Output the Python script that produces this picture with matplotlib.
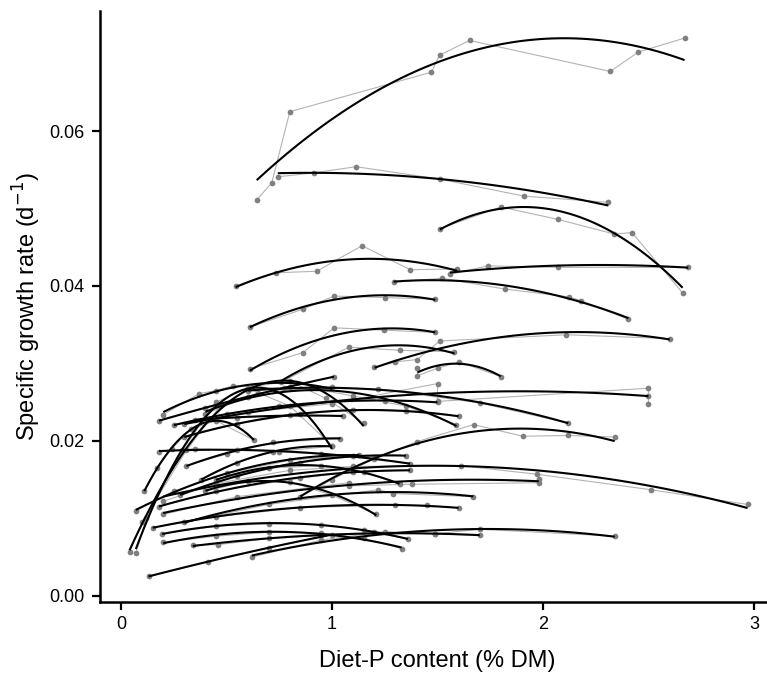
import matplotlib
matplotlib.use("Agg")
import matplotlib.pyplot as plt
import numpy as np

plt.rcParams['font.family'] = ['Liberation Sans', 'DejaVu Sans']

# each study: (diet P % DM, specific growth rate d-1)
study_a = ([0.643, 0.714, 0.800, 1.471, 1.510, 1.652, 2.319, 2.452, 2.671],
           [0.0511, 0.0533, 0.0625, 0.0676, 0.0698, 0.0717, 0.0677, 0.0702, 0.0720])
study_b = ([0.743, 0.914, 1.114, 1.510, 1.910, 2.310],
           [0.0541, 0.0546, 0.0554, 0.0538, 0.0516, 0.0508])
study_c = ([1.511, 1.800, 2.070, 2.339, 2.422, 2.662],
           [0.0474, 0.0502, 0.0486, 0.0467, 0.0469, 0.0391])
study_d = ([0.543, 0.732, 0.927, 1.142, 1.371, 1.594],
           [0.0400, 0.0417, 0.0419, 0.0452, 0.0421, 0.0422])
study_e = ([1.559, 1.740, 2.073, 2.689],
           [0.0415, 0.0426, 0.0424, 0.0424])
study_f = ([1.292, 1.521, 1.820, 2.122, 2.181, 2.405],
           [0.0405, 0.0410, 0.0396, 0.0386, 0.0381, 0.0357])
study_g = ([0.610, 0.862, 1.010, 1.252, 1.490],
           [0.0347, 0.0370, 0.0387, 0.0385, 0.0383])
study_h = ([0.610, 0.862, 1.010, 1.248, 1.490],
           [0.0293, 0.0314, 0.0346, 0.0343, 0.0340])
study_i = ([0.760, 1.080, 1.320, 1.580],
           [0.0276, 0.0321, 0.0317, 0.0315])
study_j = ([1.201, 1.300, 1.403, 1.511, 2.111, 2.601],
           [0.0295, 0.0302, 0.0305, 0.0329, 0.0337, 0.0332])
study_k = ([1.405, 1.405, 1.502, 1.602, 1.800],
           [0.0294, 0.0284, 0.0294, 0.0302, 0.0283])
study_l = ([0.30, 0.60, 1.00, 1.50, 1.50, 2.50, 2.50, 2.50],
           [0.0222, 0.0237, 0.0248, 0.0274, 0.0251, 0.0268, 0.0258, 0.0247])
study_m = ([0.60, 0.90, 1.22, 1.70, 2.12],
           [0.0265, 0.0268, 0.0267, 0.0249, 0.0223])
study_n = ([0.85, 1.00, 1.20, 1.403, 1.671, 1.905, 2.12, 2.34],
           [0.0128, 0.0150, 0.0177, 0.0199, 0.0221, 0.0206, 0.0207, 0.0205])
study_o = ([0.20, 0.45, 0.80, 1.10, 1.61, 1.97, 2.51, 2.97],
           [0.0122, 0.0145, 0.0162, 0.0167, 0.0168, 0.0157, 0.0137, 0.0118])
study_p = ([0.20, 0.55, 1.08, 1.08, 1.38, 1.98, 1.98],
           [0.0105, 0.0128, 0.0146, 0.0142, 0.0144, 0.0146, 0.0151])
study_q = ([0.30, 0.70, 1.22, 1.29, 1.67],
           [0.0095, 0.0118, 0.0137, 0.0132, 0.0128])
study_r = ([0.15, 0.45, 0.85, 1.30, 1.45, 1.60],
           [0.0088, 0.0102, 0.0114, 0.0117, 0.0117, 0.0113])
study_s = ([0.62, 0.95, 1.25, 1.49, 1.70, 2.34],
           [0.0050, 0.0072, 0.0083, 0.0080, 0.0086, 0.0077])
study_t = ([0.20, 0.45, 0.70, 0.95, 1.15, 1.33],
           [0.0069, 0.0077, 0.0082, 0.0081, 0.0074, 0.0061])
study_u = ([0.04, 0.10, 0.31, 0.47, 0.62, 0.80, 0.97, 1.15],
           [0.0057, 0.0095, 0.0188, 0.0245, 0.0270, 0.0277, 0.0255, 0.0223])
study_v = ([0.07, 0.12, 0.29, 0.45, 0.60, 0.80, 1.00],
           [0.0055, 0.0100, 0.0188, 0.0250, 0.0268, 0.0245, 0.0194])
study_w = ([0.11, 0.17, 0.24, 0.33, 0.45, 0.63],
           [0.0135, 0.0165, 0.0190, 0.0215, 0.0226, 0.0201])
study_x = ([0.40, 0.65, 0.90, 1.10, 1.35, 1.59],
           [0.0235, 0.0262, 0.0268, 0.0258, 0.0245, 0.0221])
study_y = ([0.18, 0.40, 0.60, 0.80, 1.01],
           [0.0226, 0.0243, 0.0257, 0.0270, 0.0283])
study_z = ([0.20, 0.37, 0.45, 0.53, 0.77, 1.00],
           [0.0234, 0.0261, 0.0265, 0.0271, 0.0268, 0.0270])
study_aa = ([0.25, 0.50, 0.75, 1.00, 1.25, 1.50],
            [0.0220, 0.0235, 0.0245, 0.0250, 0.0252, 0.0250])
study_ab = ([0.30, 0.55, 0.85, 1.10, 1.35, 1.60],
            [0.0205, 0.0222, 0.0235, 0.0240, 0.0238, 0.0232])
study_ac = ([0.35, 0.55, 0.80, 1.05],
            [0.0227, 0.0230, 0.0233, 0.0232])
study_ad = ([0.18, 0.35, 0.55, 0.75, 0.95, 1.20, 1.37],
            [0.0186, 0.0190, 0.0188, 0.0186, 0.0183, 0.0178, 0.0170])
study_ae = ([0.31, 0.50, 0.72, 1.04],
            [0.0168, 0.0183, 0.0198, 0.0203])
study_af = ([0.38, 0.55, 0.72, 1.00],
            [0.0150, 0.0172, 0.0186, 0.0193])
study_ag = ([0.28, 0.55, 0.85, 1.10, 1.35],
            [0.0130, 0.0155, 0.0172, 0.0180, 0.0181])
study_ah = ([0.18, 0.45, 0.85, 1.10, 1.37],
            [0.0115, 0.0135, 0.0152, 0.0160, 0.0162])
study_ai = ([0.07, 0.25, 0.50, 0.80, 1.13],
            [0.0110, 0.0135, 0.0158, 0.0175, 0.0182])
study_aj = ([0.40, 0.60, 0.80, 1.00, 1.21],
            [0.0135, 0.0148, 0.0147, 0.0130, 0.0105])
study_ak = ([0.45, 0.70, 0.95, 1.15, 1.32],
            [0.0150, 0.0165, 0.0168, 0.0160, 0.0144])
study_al = ([0.195, 0.45, 0.70, 0.95, 1.15, 1.36],
            [0.0080, 0.0090, 0.0093, 0.0092, 0.0085, 0.0073])
study_am = ([0.34, 0.46, 0.70, 0.95, 1.20, 1.49, 1.70],
            [0.0066, 0.0066, 0.0074, 0.0078, 0.0082, 0.0080, 0.0078])
study_an = ([0.13, 0.41, 0.70, 1.00],
            [0.0025, 0.0044, 0.0062, 0.0079])

studies = [study_a, study_b, study_c, study_d, study_e, study_f, study_g, study_h,
           study_i, study_j, study_k, study_l, study_m, study_n, study_o, study_p,
           study_q, study_r, study_s, study_t, study_u, study_v, study_w, study_x,
           study_y, study_z, study_aa, study_ab, study_ac, study_ad, study_ae,
           study_af, study_ag, study_ah, study_ai, study_aj, study_ak, study_al,
           study_am, study_an]

x_ticks = [0, 1, 2, 3]
y_ticks = [0.00, 0.02, 0.04, 0.06]

fig = plt.figure(figsize=(7.67, 6.75), dpi=100)
ax = fig.add_axes([100 / 767, 73 / 675, 675 / 767, 591 / 675])

for xs, ys in studies:
    xs = np.array(xs)
    ys = np.array(ys)
    order = np.argsort(xs, kind="stable")
    # raw observations, joined in order of diet P
    ax.plot(xs[order], ys[order], color="#b3b3b3", lw=0.8, zorder=1)
    ax.scatter(xs, ys, s=17, color="#808080", linewidths=0, zorder=2)
    # quadratic fit per study
    coef = np.polyfit(xs, ys, 2)
    xf = np.linspace(xs.min(), xs.max(), 120)
    ax.plot(xf, np.polyval(coef, xf), color="black", lw=1.5, zorder=3,
            solid_capstyle="butt")

ax.set_xlim(-0.1, 3.1)
ax.set_ylim(-0.0008, 0.0755)
ax.set_xticks(x_ticks)
ax.set_xticklabels([str(t) for t in x_ticks])
ax.set_yticks(y_ticks)
ax.set_yticklabels([f"{t:.2f}" for t in y_ticks])

for side in ["top", "right"]:
    ax.spines[side].set_visible(False)
for side in ["left", "bottom"]:
    ax.spines[side].set_linewidth(1.8)
ax.tick_params(axis="both", length=6, width=1.6, labelsize=13, color="black")
ax.tick_params(axis="x", pad=4)
ax.tick_params(axis="y", pad=5)

ax.set_xlabel("Diet-P content (% DM)", fontsize=17, labelpad=12)
ax.set_ylabel("Specific growth rate (d$^{-1}$)", fontsize=17, labelpad=5)

fig.savefig("out.png", dpi=100)
